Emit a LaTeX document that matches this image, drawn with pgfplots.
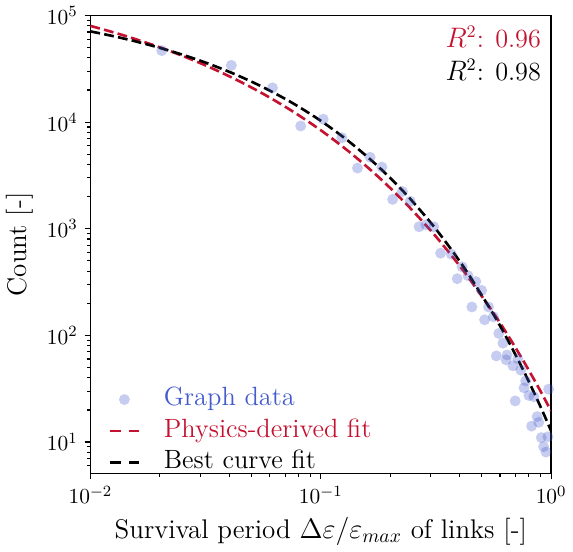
\documentclass[border=0pt]{standalone}
\usepackage{pgfplots}
\pgfplotsset{compat=1.18}
\definecolor{fitred}{RGB}{196,18,48}
\definecolor{datablue}{RGB}{68,90,205}
\pgfplotsset{
 dashleg/.style={legend image code/.code={\draw[##1, dash pattern=on 5.5pt off 4.5pt] (0pt,0pt) -- (15pt,0pt);}},
 dotleg/.style={legend image code/.code={\path[draw=none, fill=none] (0pt,0pt) -- (15pt,0pt); \fill[datablue, fill opacity=0.3, draw=none] (7.5pt,0pt) circle (2.8pt);}},
}
\begin{document}
\begin{tikzpicture}
\begin{axis}[
 scale only axis, width=235.5pt, height=234pt,
 xmode=log, ymode=log,
 xmin=0.01, xmax=1, ymin=5.1, ymax=1e5,
 tick pos=left, tick align=outside,
 major tick length=3pt, minor tick length=1.8pt,
 axis line style={line width=0.7pt},
 every tick/.style={black, line width=0.6pt},
 tick label style={font=\fontsize{11.4}{13}\selectfont},
 label style={font=\fontsize{13.8}{16}\selectfont},
 xlabel={Survival period $\Delta\varepsilon/\varepsilon_{max}$ of links [-]},
 ylabel={Count [-]},
 legend style={draw=none, fill=none, at={(0,0)}, anchor=south west, xshift=9pt, yshift=-1pt,
   inner sep=0pt, font=\fontsize{13.5}{15}\selectfont, row sep=3.6pt, column sep=12pt,
   nodes={inner sep=0pt, text height=9.5pt, text depth=3pt}},
 legend cell align=left,
]
\addplot[only marks, mark=*, mark size=2.8pt, color=datablue, mark options={draw=datablue, fill=datablue, fill opacity=0.3, draw opacity=0}, dotleg]
coordinates {
(0.0204,46800) (0.0409,34050) (0.0617,20950) (0.0818,9190) (0.1025,10650)
(0.1234,7130) (0.1443,3706) (0.1638,4677) (0.1842,3784) (0.2262,2232)
(0.2051,1884) (0.2446,1806) (0.2672,1043) (0.2861,1088) (0.3093,1043)
(0.3313,590) (0.3688,578) (0.4109,439) (0.3913,340) (0.4356,363)
(0.4710,320) (0.4995,264) (0.4529,184.6) (0.5349,184.6) (0.5145,140)
(0.5616,149.4) (0.5926,104.3) (0.6176,84.5) (0.5783,64.2) (0.6440,65.5)
(0.6378,59.0) (0.7171,60.2) (0.6830,51.9) (0.7386,47.2) (0.7754,37.4)
(0.7627,32.2) (0.8009,27.3) (0.8410,26.6) (0.6986,24.3) (0.9759,31.3)
(0.8696,17.3) (0.8834,15.3) (0.8226,14.1) (0.9067,11.0) (0.9683,11.2)
(0.9275,9.06) (0.9495,8.05)
};
\addlegendentry{\textcolor{datablue}{Graph data}}
\addplot[fitred, line width=1.35pt, dash pattern=on 5pt off 2.2pt, smooth, dashleg]
coordinates {
(0.01,79800) (0.0133,67080) (0.0178,54830) (0.0237,43860) (0.0316,34010)
(0.0422,25460) (0.0562,18420) (0.075,12720) (0.1,8388) (0.133,5254)
(0.178,3058) (0.237,1676) (0.316,845.7) (0.422,388.2) (0.562,162.1)
(0.65,99.7) (0.75,59.97) (0.85,37.41) (0.93,26.23) (1.0,19.51)
};
\addlegendentry{\textcolor{fitred}{Physics-derived fit}}
\addplot[black, line width=1.35pt, dash pattern=on 5pt off 2.2pt, smooth, dashleg]
coordinates {
(0.01,70880) (0.0133,62260) (0.0178,53250) (0.0237,44530) (0.0316,36140)
(0.0422,28240) (0.0562,21230) (0.075,15190) (0.1,10280) (0.133,6541)
(0.178,3815) (0.237,2053) (0.316,992.7) (0.422,422.5) (0.562,157.2)
(0.65,89.5) (0.75,49.2) (0.85,28.0) (0.93,18.23) (1.0,12.70)
};
\addlegendentry{Best curve fit}
\node[anchor=base east, inner sep=0pt, font=\fontsize{13.4}{15}\selectfont, text=fitred] at ([xshift=-5pt,yshift=-16.5pt]rel axis cs:1,1) {$R^2$: 0.96};
\node[anchor=base east, inner sep=0pt, font=\fontsize{13.4}{15}\selectfont] at ([xshift=-5pt,yshift=-33.5pt]rel axis cs:1,1) {$R^2$: 0.98};
\end{axis}
\end{tikzpicture}
\end{document}
